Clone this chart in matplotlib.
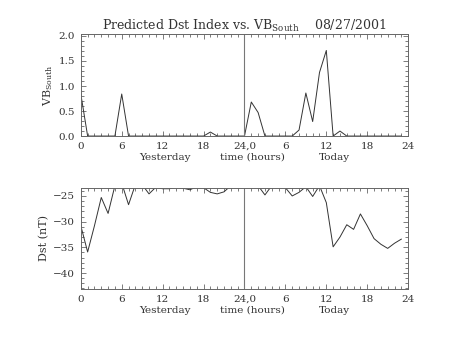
import matplotlib
matplotlib.use("Agg")
import matplotlib.pyplot as plt
import numpy as np
from matplotlib.ticker import MultipleLocator

################################################################################
# Data (hourly values, yesterday 0-23, today 24-47)     #
################################################################################
hours = np.arange(48)
vb_south = [0.84, 0.0, 0.0, 0.0, 0.0, 0.0, 0.84, 0.0, 0.0, 0.0, 0.0, 0.0,
            0.0, 0.0, 0.0, 0.0, 0.0, 0.0, 0.0, 0.08, 0.0, 0.0, 0.0, 0.0,
            0.0, 0.68, 0.47, 0.0, 0.0, 0.0, 0.0, 0.0, 0.12, 0.86, 0.29, 1.27,
            1.71, 0.0, 0.10, 0.0, 0.0, 0.0, 0.0, 0.0, 0.0, 0.0, 0.0, 0.0]
dst = [-30.8, -35.9, -30.8, -25.3, -28.4, -23.0, -22.5, -26.7, -22.8, -22.8, -24.6, -23.3,
       -23.6, -23.6, -23.3, -23.5, -23.8, -23.2, -23.4, -24.3, -24.6, -24.2, -23.0, -22.5,
       -22.5, -22.8, -23.0, -24.8, -23.0, -22.8, -23.4, -25.0, -24.3, -23.2, -25.1, -23.0,
       -26.3, -34.9, -33.0, -30.6, -31.5, -28.5, -30.8, -33.3, -34.4, -35.2, -34.2, -33.4]
xtick_pos = [0, 6, 12, 18, 24, 30, 36, 42, 48]
xtick_lab = ['0', '6', '12', '18', '24,0', '6', '12', '18', '24']
day_names = ['Yesterday', 'time (hours)', 'Today']
day_pos = [12.3, 25.1, 37.2]

plt.rcParams['font.family'] = 'DejaVu Serif'
plt.rcParams['mathtext.fontset'] = 'dejavuserif'
fg = '#333333'
ax_col = '#666666'

fig = plt.figure(figsize=(4.54, 3.41), dpi=100)
ax1 = fig.add_axes([0.178, 0.601, 0.721, 0.298])
ax2 = fig.add_axes([0.178, 0.1525, 0.721, 0.297])


def style_axis(ax):
    ax.set_xlim(0, 48)
    ax.set_xticks(xtick_pos)
    ax.set_xticklabels(xtick_lab)
    ax.xaxis.set_minor_locator(MultipleLocator(1))
    ax.tick_params(which='both', direction='in', top=True, right=True,
                   colors=ax_col, labelcolor=fg, labelsize=7.5, width=0.6)
    ax.tick_params(which='major', length=3.5, pad=4)
    ax.tick_params(which='minor', length=2)
    for s in ax.spines.values():
        s.set_color(ax_col)
        s.set_linewidth(0.7)
    ax.axvline(24, color='#777777', lw=0.8)
    for name, p in zip(day_names, day_pos):
        ax.text(p, -0.21, name, transform=ax.get_xaxis_transform(),
                ha='center', va='center', fontsize=7.5, color=fg)


# top panel - VB south
ax1.plot(hours, vb_south, color=fg, lw=0.7)
ax1.set_ylim(0, 2.03)
ax1.yaxis.set_major_locator(MultipleLocator(0.5))
ax1.yaxis.set_minor_locator(MultipleLocator(0.1))
ax1.yaxis.set_major_formatter(matplotlib.ticker.FormatStrFormatter('%.1f'))
style_axis(ax1)
ax1.set_ylabel(r'VB$_{\rm South}$', fontsize=8, color=fg, labelpad=3)
ax1.set_title(r'Predicted Dst Index vs. VB$_{\rm South}$    08/27/2001',
              fontsize=9, color=fg, pad=3)

# bottom panel - Dst
ax2.plot(hours, dst, color=fg, lw=0.7)
ax2.set_ylim(-43.1, -23.4)
ax2.yaxis.set_major_locator(MultipleLocator(5))
ax2.yaxis.set_minor_locator(MultipleLocator(1))
style_axis(ax2)
ax2.set_ylabel('Dst (nT)', fontsize=8, color=fg, labelpad=3)

fig.savefig('out.png', dpi=100)
